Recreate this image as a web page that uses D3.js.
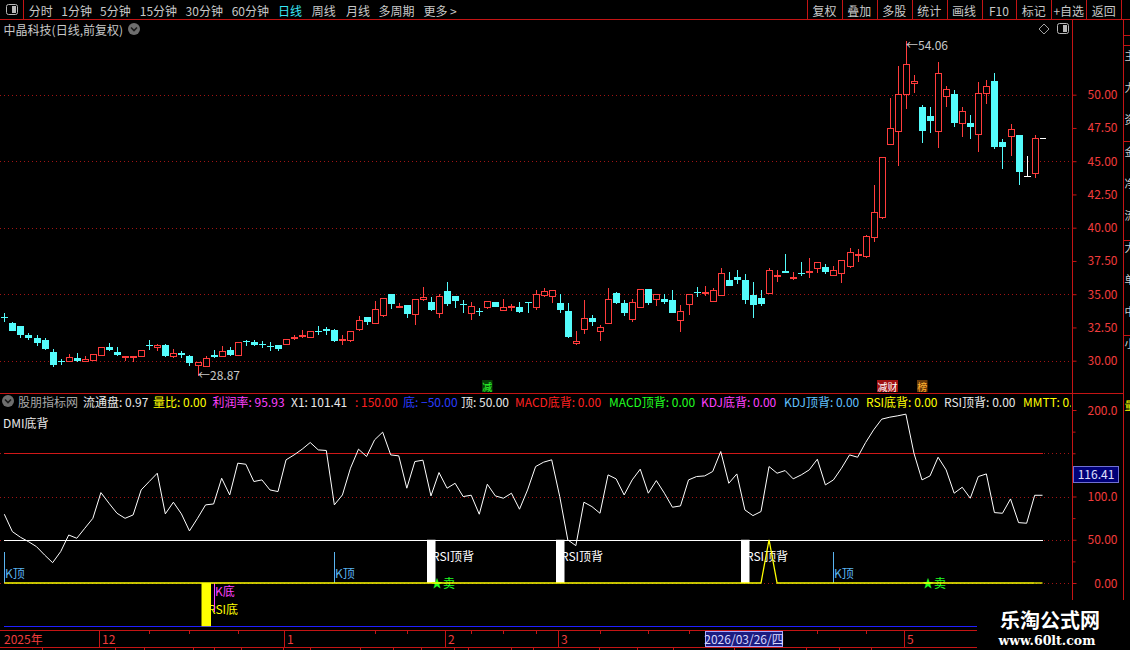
<!DOCTYPE html>
<html lang="zh-CN">
<head>
<meta charset="UTF-8">
<title>中晶科技 日线</title>
<style>
  body { margin: 0; background: #000; overflow: hidden; }
  svg text { font-family: "Noto Sans CJK SC", "Noto Sans", sans-serif; }
</style>
<script src="https://cdn.jsdelivr.net/npm/d3@7/dist/d3.min.js"></script>
</head>
<body>
<script>
// ---------- 数据：日K线 ----------
const opens = [
  33.30, 32.85, 32.62, 31.95, 31.72, 31.57, 30.67, 29.97, 29.95, 30.20,
  29.95, 30.07, 30.45, 31.05, 30.62, 30.30, 30.28, 30.32, 31.20, 31.00,
  31.20, 30.32, 30.60, 30.37, 29.65, 29.57, 30.45, 30.32, 30.82, 30.40,
  31.47, 31.42, 31.27, 31.10, 31.17, 31.22, 31.72, 31.87, 31.75, 32.22,
  32.35, 32.32, 31.60, 31.57, 32.38, 33.28, 32.86, 33.46, 35.00, 34.10,
  34.16, 33.48, 34.61, 34.43, 33.56, 35.24, 34.86, 34.26, 33.61, 33.70,
  34.06, 34.41, 33.83, 34.04, 34.03, 34.38, 34.06, 34.96, 34.86, 34.33,
  33.73, 31.30, 32.35, 33.21, 32.26, 32.86, 35.08, 34.33, 33.16, 34.06,
  35.39, 34.61, 34.63, 34.56, 33.03, 34.23, 35.20, 35.10, 34.52, 34.92,
  36.07, 36.30, 36.07, 34.94, 34.72, 35.07, 36.37, 36.72, 36.27, 36.59,
  36.72, 36.95, 37.05, 36.47, 36.62, 37.15, 38.00, 37.90, 39.33, 40.83,
  46.27, 47.25, 50.03, 50.90, 49.05, 48.40, 47.25, 49.93, 50.05, 47.85,
  47.85, 47.02, 50.10, 51.03, 46.42, 46.87, 46.94, 43.90, 44.14
];
const highs = [
  33.57, 32.88, 32.64, 32.12, 31.92, 31.70, 30.90, 30.12, 30.52, 30.57,
  30.37, 30.52, 31.04, 31.35, 31.00, 30.35, 30.35, 30.84, 31.57, 31.27,
  31.27, 30.90, 30.70, 30.40, 29.92, 30.37, 30.82, 31.07, 31.05, 31.42,
  31.52, 31.57, 31.45, 31.37, 31.19, 31.64, 31.95, 32.32, 32.27, 32.62,
  32.50, 32.35, 31.95, 32.27, 33.37, 33.30, 34.50, 34.70, 35.02, 34.34,
  34.18, 34.63, 35.54, 34.78, 35.00, 35.91, 34.88, 34.56, 34.38, 33.93,
  34.50, 34.43, 34.63, 34.26, 34.41, 34.43, 35.31, 35.44, 35.31, 35.01,
  34.33, 32.23, 34.56, 33.43, 32.66, 35.46, 35.16, 34.53, 34.61, 35.38,
  35.41, 35.00, 35.01, 35.31, 34.18, 35.00, 35.54, 35.62, 35.44, 36.95,
  36.70, 36.82, 36.52, 35.92, 35.32, 36.95, 36.82, 38.02, 36.65, 37.42,
  37.72, 37.42, 37.27, 37.12, 37.59, 38.45, 38.37, 39.45, 43.20, 45.31,
  49.73, 52.16, 54.06, 51.48, 49.23, 49.05, 52.43, 50.65, 50.35, 49.10,
  48.47, 50.98, 51.10, 51.66, 46.67, 47.77, 46.96, 45.39, 46.97
];
const lows = [
  32.94, 32.22, 31.67, 31.57, 31.07, 30.82, 29.50, 29.65, 29.93, 29.92,
  29.93, 30.00, 30.40, 30.72, 30.32, 29.95, 29.87, 30.30, 30.82, 30.70,
  30.30, 30.17, 30.17, 29.57, 28.87, 29.50, 30.20, 30.30, 30.37, 30.38,
  31.12, 31.07, 30.95, 30.70, 30.70, 31.15, 31.52, 31.70, 31.70, 31.90,
  31.90, 31.42, 31.20, 31.42, 32.24, 32.68, 32.78, 33.30, 33.88, 33.94,
  33.23, 32.68, 34.51, 33.73, 33.23, 34.11, 33.98, 33.61, 33.06, 33.36,
  33.86, 34.04, 33.81, 33.76, 33.58, 33.61, 33.83, 34.81, 34.36, 33.61,
  31.70, 31.20, 32.00, 32.60, 31.48, 32.84, 34.26, 33.38, 32.93, 33.98,
  34.21, 34.13, 34.28, 33.59, 32.18, 33.43, 34.81, 34.89, 34.44, 34.90,
  35.60, 35.77, 34.27, 33.21, 34.12, 35.05, 35.94, 36.60, 36.07, 36.37,
  36.25, 36.57, 36.52, 36.45, 35.87, 37.00, 37.42, 37.72, 38.95, 40.65,
  46.25, 44.67, 48.90, 50.10, 46.39, 47.15, 45.97, 49.10, 47.60, 46.85,
  46.64, 45.72, 49.28, 45.94, 44.39, 45.39, 43.18, 43.85, 43.76
];
const closes = [
  33.25, 32.25, 31.95, 31.70, 31.35, 30.90, 29.70, 29.93, 30.27, 30.00,
  30.12, 30.50, 31.02, 30.82, 30.45, 30.32, 30.33, 30.82, 31.15, 31.17,
  30.37, 30.57, 30.40, 29.80, 29.90, 30.20, 30.25, 30.75, 30.45, 31.40,
  31.42, 31.15, 31.22, 31.05, 30.90, 31.62, 31.75, 31.90, 32.22, 32.17,
  32.27, 31.50, 31.65, 32.22, 33.07, 32.90, 33.86, 34.68, 34.28, 34.14,
  33.53, 34.61, 34.76, 33.81, 34.86, 34.28, 34.48, 34.20, 34.11, 33.66,
  34.48, 34.06, 34.03, 34.08, 33.66, 34.34, 35.01, 35.21, 35.29, 33.81,
  31.78, 31.45, 33.18, 32.93, 32.51, 34.61, 34.36, 33.61, 34.38, 35.36,
  34.36, 34.98, 34.43, 33.61, 33.71, 34.98, 35.16, 35.17, 35.32, 36.57,
  35.62, 36.07, 34.57, 34.19, 34.27, 36.82, 36.42, 36.62, 36.32, 36.55,
  36.78, 37.40, 36.67, 36.80, 37.57, 38.17, 38.05, 39.38, 41.15, 45.29,
  47.47, 50.03, 52.28, 51.03, 47.30, 48.05, 51.60, 50.40, 47.90, 48.75,
  47.55, 50.10, 50.65, 46.09, 46.09, 47.40, 44.20, 43.90, 46.72
];

// ---------- 数据：副图指标 ----------
const x1Values = [
  79.5, 59.4, 52.9, 47.8, 42.0, 32.4, 23.5, 36.3, 55.5, 51.7,
  63.3, 74.8, 104.5, 92.2, 80.6, 74.8, 78.7, 107.6, 117.3, 126.9,
  79.9, 93.4, 79.9, 60.2, 74.8, 90.3, 91.4, 121.1, 101.8, 138.5,
  137.3, 117.3, 119.2, 107.6, 105.7, 142.4, 148.1, 154.7, 162.4, 153.9,
  153.2, 90.3, 101.8, 132.7, 154.7, 146.2, 165.5, 174.4, 148.1, 147.0,
  109.6, 140.4, 142.0, 100.7, 127.7, 109.6, 115.3, 99.9, 101.5, 79.5,
  114.2, 100.7, 98.0, 103.8, 85.3, 107.6, 134.6, 139.7, 142.4, 99.9,
  49.8, 43.2, 93.4, 88.3, 80.6, 125.0, 120.4, 101.8, 119.2, 131.6,
  103.8, 118.4, 103.8, 87.6, 89.1, 119.2, 123.1, 123.8, 128.9, 152.0,
  115.3, 126.1, 84.5, 77.9, 82.6, 134.6, 126.9, 130.0, 120.4, 125.0,
  130.8, 143.1, 113.4, 119.2, 132.7, 148.1, 145.4, 162.4, 177.1, 189.4,
  191.7, 193.3, 195.2, 150.1, 119.2, 123.8, 145.4, 130.8, 103.8, 110.7,
  98.0, 123.1, 126.1, 81.4, 80.6, 97.2, 69.8, 69.1, 101.41
];
const mmttValues = [
  0, 0, 0, 0, 0, 0, 0, 0, 0, 0,
  0, 0, 0, 0, 0, 0, 0, 0, 0, 0,
  0, 0, 0, 0, 0, 0, 0, 0, 0, 0,
  0, 0, 0, 0, 0, 0, 0, 0, 0, 0,
  0, 0, 0, 0, 0, 0, 0, 0, 0, 0,
  0, 0, 0, 0, 0, 0, 0, 0, 0, 0,
  0, 0, 0, 0, 0, 0, 0, 0, 0, 0,
  0, 0, 0, 0, 0, 0, 0, 0, 0, 0,
  0, 0, 0, 0, 0, 0, 0, 0, 0, 0,
  0, 0, 0, 0, 0, 50, 0, 0, 0, 0,
  0, 0, 0, 0, 0, 0, 0, 0, 0, 0,
  0, 0, 0, 0, 0, 0, 0, 0, 0, 0,
  0, 0, 0, 0, 0, 0, 0, 0, 0
];
const levelHigh = 150, levelTop = 50, levelBottom = -50;

// 信号所在K线序号
const kTopIdx = [0, 41, 103];
const kBottomIdx = [26];
const rsiTopDivIdx = [53, 69, 92];
const rsiBottomIdx = [25];
const sellIdx = [53, 114];

// 主图事件标记
const eventIdx = [60, 109, 114];
const eventLabels = ["减", "减财", "榜"];

// 刻度
const priceTickValues = [30, 32.5, 35, 37.5, 40, 42.5, 45, 47.5, 50];
const priceGridValues = [30, 35, 40, 45, 50];
const indTickValues = [0, 50, 100, 200];
const indTickLabels = ["0.00", "50.00", "100.0", "200.0"];
const indMinorTicks = [25, 75, 125, 150, 175];
const indGridValues = [0, 50, 100, 150];
const monthStartIdx = [12, 35, 55, 69, 91, 112];
const monthLabels = ["12", "1", "2", "3", "", "5"];   // 4月标签被光标日期框遮住
const weekTickIdx = [18, 23, 29, 46, 50, 58, 62, 66, 74, 80, 85, 101, 107];
const cursorIdx = 92, cursorDate = "2026/03/26/四", cursorValue = 116.41;

// 表头
const headerNames = ["流通盘", "量比", "利润率", "X1", "", "底", "顶", "MACD底背", "MACD顶背",
                     "KDJ底背", "KDJ顶背", "RSI底背", "RSI顶背", "MMTT"];
const headerValues = [0.97, 0.00, 95.93, 101.41, 150.00, -50.00, 50.00, 0, 0, 0, 0, 0, 0, 0];

// ---------- 样式与布局 ----------
const W = 1130, H = 650;
const frameRed = "#c41414", labelRed = "#f03c3c", gridRed = "#a01414";
const upColor = "#ff3c3c", downColor = "#54fcfc", grayText = "#c8c8c8";
const axisX = 1072, lineEnd = 1042.5, stripX = 1123;

const svg = d3.select("body").append("svg").attr("width", W).attr("height", H);
svg.append("rect").attr("width", W).attr("height", H).attr("fill", "#000");

const idx = opens.map((d, i) => i);
const x = d3.scaleBand().domain(idx).range([0.3, 1038.7]).paddingInner(0.17).paddingOuter(0.085);
const cx = i => x(i) + x.bandwidth() / 2;
const px = i => Math.round(cx(i));
const yP = d3.scaleLinear().domain([30, 50]).range([360.7, 94.7]);
const yI = d3.scaleLinear().domain([0, 200]).range([583, 410]);
const r5 = v => Math.round(v) + 0.5;

// ---------- 工具栏 ----------
const frame = svg.append("g").attr("shape-rendering", "crispEdges").attr("stroke", frameRed);
frame.append("line").attr("x1", 0).attr("x2", W).attr("y1", 19.5).attr("y2", 19.5);
frame.append("line").attr("x1", 23.5).attr("x2", 23.5).attr("y1", 0).attr("y2", 19);

function panelIcon(g, x0, y0) {
  g.append("rect").attr("x", x0 + 0.5).attr("y", y0 + 0.5).attr("width", 11).attr("height", 10)
    .attr("rx", 2).attr("fill", "none").attr("stroke", "#b8b8b8");
  g.append("rect").attr("x", x0 + 6).attr("y", y0 + 2).attr("width", 4).attr("height", 7).attr("fill", "#b8b8b8");
}
panelIcon(svg, 6, 4);

const toolItems = ["分时", "1分钟", "5分钟", "15分钟", "30分钟", "60分钟", "日线", "周线", "月线", "多周期", "更多 >"];
const toolX = [28.8, 61.3, 100, 139.8, 185.6, 231.7, 278, 311.7, 346, 378.4, 423.4];
svg.append("g").selectAll("text").data(toolItems).join("text")
  .attr("x", (d, i) => toolX[i]).attr("y", 10).attr("dominant-baseline", "central")
  .attr("font-size", 12).attr("fill", d => d === "日线" ? "#38e8f8" : grayText).text(d => d);

const buttons = ["复权", "叠加", "多股", "统计", "画线", "F10", "标记", "+自选", "返回"];
const btnStep = 34.9, btnLeft = 807;
d3.range(buttons.length + 1).forEach(k => {
  frame.append("line").attr("x1", r5(btnLeft + k * btnStep)).attr("x2", r5(btnLeft + k * btnStep))
    .attr("y1", 0).attr("y2", 19);
});
svg.append("g").selectAll("text").data(buttons).join("text")
  .attr("x", (d, i) => btnLeft + (i + 0.5) * btnStep).attr("y", 10).attr("text-anchor", "middle")
  .attr("dominant-baseline", "central").attr("font-size", 12).attr("fill", grayText).text(d => d);

// 标题行
svg.append("text").attr("x", 3.6).attr("y", 29).attr("dominant-baseline", "central")
  .attr("font-size", 12).attr("fill", grayText).text("中晶科技(日线,前复权)");
function chevron(x0, y0) {
  svg.append("circle").attr("cx", x0).attr("cy", y0).attr("r", 6).attr("fill", "#6e6e6e");
  svg.append("path").attr("d", `M${x0 - 3},${y0 - 1.5} L${x0},${y0 + 1.5} L${x0 + 3},${y0 - 1.5}`)
    .attr("fill", "none").attr("stroke", "#1a1a1a").attr("stroke-width", 1.6);
}
chevron(134, 29);
svg.append("path").attr("d", "M1044,24 L1049,29 L1044,34 L1039,29 Z").attr("fill", "none").attr("stroke", "#a0a0a0");
panelIcon(svg, 1057, 23);

// 框线
frame.append("line").attr("x1", axisX + 0.5).attr("x2", axisX + 0.5).attr("y1", 20).attr("y2", 600);
frame.append("line").attr("x1", stripX + 0.5).attr("x2", stripX + 0.5).attr("y1", 20).attr("y2", H);
frame.append("line").attr("x1", 0).attr("x2", stripX).attr("y1", 393.5).attr("y2", 393.5);
[35, 45, 141, 240, 335].forEach(yy => frame.append("line").attr("x1", stripX).attr("x2", W).attr("y1", yy + 0.5).attr("y2", yy + 0.5));
// 右侧被截断的面板（只露出一小条）
const stripChars = "主力资金净流大单中小";
svg.append("g").selectAll("text").data(stripChars.split("")).join("text")
  .attr("x", stripX + 1.5).attr("y", (d, i) => 60 + i * 32).attr("font-size", 11).attr("fill", "#cfcfcf").text(d => d);
svg.append("text").attr("x", stripX + 1.5).attr("y", 410).attr("font-size", 11).attr("fill", "#ffff00").text("量");

// ---------- 主图 ----------
const grid = svg.append("g").attr("shape-rendering", "crispEdges");
grid.selectAll("line").data(priceGridValues).join("line")
  .attr("x1", 0).attr("x2", axisX).attr("y1", d => r5(yP(d))).attr("y2", d => r5(yP(d)))
  .attr("stroke", gridRed).attr("stroke-dasharray", "1,3");

const pAxis = svg.append("g").attr("transform", `translate(${axisX + 0.5},0)`)
  .call(d3.axisRight(yP).tickValues(priceTickValues).tickFormat(d3.format(".2f")).tickSize(4));
pAxis.select(".domain").remove();
pAxis.selectAll("line").attr("stroke", frameRed);
pAxis.selectAll("text").attr("x", 45).attr("y", -1.5).attr("text-anchor", "end").attr("fill", labelRed)
  .attr("font-size", 12).attr("dy", null).attr("dominant-baseline", "central");

const candles = idx.map(i => ({ i, o: opens[i], h: highs[i], l: lows[i], c: closes[i] }));
const cg = svg.append("g").attr("shape-rendering", "crispEdges");
candles.forEach(d => {
  const xc = px(d.i);
  const yH = Math.round(yP(d.h)), yL = Math.round(yP(d.l));
  const yO = Math.round(yP(d.o)), yC = Math.round(yP(d.c));
  if (d.c > d.o) {
    cg.append("line").attr("x1", xc + 0.5).attr("x2", xc + 0.5).attr("y1", yH).attr("y2", yC).attr("stroke", upColor);
    cg.append("line").attr("x1", xc + 0.5).attr("x2", xc + 0.5).attr("y1", yO).attr("y2", yL).attr("stroke", upColor);
    cg.append("rect").attr("x", xc - 2.5).attr("y", yC + 0.5).attr("width", 6).attr("height", Math.max(yO - yC, 1))
      .attr("fill", "#000").attr("stroke", upColor);
  } else if (d.c < d.o) {
    cg.append("line").attr("x1", xc + 0.5).attr("x2", xc + 0.5).attr("y1", yH).attr("y2", yL).attr("stroke", downColor);
    cg.append("rect").attr("x", xc - 3).attr("y", yO).attr("width", 7).attr("height", Math.max(yC - yO, 1))
      .attr("fill", downColor);
  } else {
    cg.append("line").attr("x1", xc + 0.5).attr("x2", xc + 0.5).attr("y1", yH).attr("y2", yL + 1).attr("stroke", "#fff");
    cg.append("line").attr("x1", xc - 3).attr("x2", xc + 4).attr("y1", yC + 0.5).attr("y2", yC + 0.5).attr("stroke", "#fff");
  }
});
// 最新价标记
const lastI = closes.length - 1;
cg.append("line").attr("x1", px(lastI) + 5).attr("x2", px(lastI) + 11)
  .attr("y1", r5(yP(closes[lastI]))).attr("y2", r5(yP(closes[lastI]))).attr("stroke", "#fff");

// 最高/最低价标注
const hiI = d3.maxIndex(highs), loI = d3.minIndex(lows);
svg.append("text").attr("x", px(hiI)).attr("y", yP(highs[hiI]) + 4).attr("dominant-baseline", "central")
  .attr("font-size", 12).attr("fill", grayText).text("\u2190" + d3.format(".2f")(highs[hiI]));
svg.append("text").attr("x", px(loI)).attr("y", yP(lows[loI]) - 1).attr("dominant-baseline", "central")
  .attr("font-size", 12).attr("fill", grayText).text("\u2190" + d3.format(".2f")(lows[loI]));

// 事件标记
const eventStyle = [
  { fg: "#30ff30", bg: "#064006" }, { fg: "#ffffff", bg: "#a01010" }, { fg: "#ffb030", bg: "#6a3a08" }
];
eventIdx.forEach((e, k) => {
  const w = 10.5 * eventLabels[k].length;
  svg.append("rect").attr("x", px(e) - 5).attr("y", 380).attr("width", w).attr("height", 12).attr("fill", eventStyle[k].bg);
  svg.append("text").attr("x", px(e) - 5 + w / 2).attr("y", 386).attr("text-anchor", "middle").attr("dominant-baseline", "central")
    .attr("font-size", 10).attr("fill", eventStyle[k].fg).text(eventLabels[k]);
});

// ---------- 副图 ----------
chevron(8, 401);
svg.append("text").attr("x", 18).attr("y", 401).attr("dominant-baseline", "central")
  .attr("font-size", 12).attr("fill", "#a8a8a8").text("股朋指标网");
const headerX = [83, 153, 212.6, 291, 355, 403, 461, 515, 609, 701, 784, 866, 944, 1023];
const headerColors = ["#e8e8e8", "#ffff00", "#ff40ff", "#e8e8e8", "#ff2020", "#2a3cff", "#e8e8e8",
                      "#ff2020", "#20ff20", "#ff40ff", "#60c0ff", "#ffff00", "#e8e8e8", "#ffff00"];
svg.append("clipPath").attr("id", "hdrClip").append("rect").attr("x", 0).attr("y", 394).attr("width", axisX - 1).attr("height", 16);
svg.append("g").attr("clip-path", "url(#hdrClip)").selectAll("text").data(headerNames).join("text")
  .attr("x", (d, i) => headerX[i]).attr("y", 401).attr("dominant-baseline", "central")
  .attr("font-size", 12).attr("fill", (d, i) => headerColors[i])
  .text((d, i) => d + ": " + d3.format(".2f")(headerValues[i]));
svg.append("text").attr("x", 3).attr("y", 422).attr("dominant-baseline", "central")
  .attr("font-size", 12).attr("fill", "#e8e8e8").text("DMI底背");

// 网格与轴
svg.append("g").attr("shape-rendering", "crispEdges").selectAll("line").data(indGridValues).join("line")
  .attr("x1", 0).attr("x2", axisX).attr("y1", d => r5(yI(d))).attr("y2", d => r5(yI(d)))
  .attr("stroke", gridRed).attr("stroke-dasharray", "1,3");
const iAxis = svg.append("g").attr("transform", `translate(${axisX + 0.5},0)`)
  .call(d3.axisRight(yI).tickValues(indTickValues).tickFormat((d, i) => indTickLabels[i]).tickSize(4));
iAxis.select(".domain").remove();
iAxis.selectAll("line").attr("stroke", frameRed);
iAxis.selectAll("text").attr("x", 45).attr("y", -1.5).attr("text-anchor", "end").attr("fill", labelRed)
  .attr("font-size", 12).attr("dy", null).attr("dominant-baseline", "central");
const iMinor = svg.append("g").attr("transform", `translate(${axisX + 0.5},0)`)
  .call(d3.axisRight(yI).tickValues(indMinorTicks).tickFormat("").tickSize(3));
iMinor.select(".domain").remove();
iMinor.selectAll("line").attr("stroke", frameRed);

// 水平线：150 / 顶 / 底
const levels = [
  { v: levelHigh, c: "#d01818" }, { v: levelTop, c: "#ffffff" }, { v: levelBottom, c: "#2020ff" }
];
svg.append("g").attr("shape-rendering", "crispEdges").selectAll("line").data(levels).join("line")
  .attr("x1", cx(0)).attr("x2", lineEnd).attr("y1", d => r5(yI(d.v))).attr("y2", d => r5(yI(d.v)))
  .attr("stroke", d => d.c).attr("stroke-width", 1);

// 信号
const sig = svg.append("g");
kTopIdx.forEach(i => {
  sig.append("line").attr("x1", px(i) + 0.5).attr("x2", px(i) + 0.5).attr("y1", 552).attr("y2", yI(0))
    .attr("stroke", "#5ab4f0").attr("shape-rendering", "crispEdges");
  sig.append("text").attr("x", px(i) + 1).attr("y", 578).attr("font-size", 12).attr("fill", "#5ab4f0").text("K顶");
});
rsiTopDivIdx.forEach(i => {
  sig.append("text").attr("x", px(i) + 1).attr("y", 561).attr("font-size", 12).attr("fill", "#ffffff").text("RSI顶背");
  sig.append("rect").attr("x", px(i) - 4).attr("y", yI(levelTop)).attr("width", 8.5)
    .attr("height", yI(0) - yI(levelTop)).attr("fill", "#ffffff");
});
rsiBottomIdx.forEach(i => {
  sig.append("text").attr("x", px(i) + 2).attr("y", 614).attr("font-size", 12).attr("fill", "#ffff00").text("RSI底");
  sig.append("rect").attr("x", px(i) - 4.5).attr("y", yI(0)).attr("width", 9.5)
    .attr("height", yI(levelBottom) - yI(0)).attr("fill", "#ffff00");
});
kBottomIdx.forEach(i => {
  sig.append("line").attr("x1", px(i) + 0.5).attr("x2", px(i) + 0.5).attr("y1", yI(0)).attr("y2", yI(0) + 29)
    .attr("stroke", "#ff40ff").attr("shape-rendering", "crispEdges");
  sig.append("text").attr("x", px(i) + 1).attr("y", 596).attr("font-size", 12).attr("fill", "#ff40ff").text("K底");
});

// X1 与 MMTT 线（末值向右延伸到线区尽头）
const line = d3.line().x((d, i) => cx(i)).y(d => yI(d));
svg.append("path").datum(x1Values).attr("d", line).attr("fill", "none").attr("stroke", "#ffffff").attr("stroke-width", 1);
svg.append("line").attr("x1", cx(lastI)).attr("x2", lineEnd).attr("y1", yI(x1Values[lastI])).attr("y2", yI(x1Values[lastI]))
  .attr("stroke", "#ffffff").attr("stroke-width", 1);
svg.append("path").datum(mmttValues).attr("d", line).attr("fill", "none").attr("stroke", "#ffff00").attr("stroke-width", 1.3);
svg.append("line").attr("x1", cx(lastI)).attr("x2", lineEnd).attr("y1", yI(mmttValues[lastI])).attr("y2", yI(mmttValues[lastI]))
  .attr("stroke", "#ffff00").attr("stroke-width", 1.3);

sellIdx.forEach(i => {
  sig.append("text").attr("x", px(i)).attr("y", 588).attr("font-size", 12).attr("fill", "#20ff20").text("★卖");
});

// 光标数值框
svg.append("rect").attr("x", 1073.5).attr("y", r5(yI(125.5)) - 8).attr("width", 45).attr("height", 16)
  .attr("fill", "#000078").attr("stroke", "#7070d0");
svg.append("text").attr("x", 1096).attr("y", yI(125.5) - 0.5).attr("text-anchor", "middle").attr("dominant-baseline", "central")
  .attr("font-size", 12).attr("fill", "#e0e0ff").text(d3.format(".2f")(cursorValue));

// ---------- 日期栏 ----------
const dateBar = svg.append("g").attr("shape-rendering", "crispEdges");
dateBar.append("line").attr("x1", 0).attr("x2", 977).attr("y1", 630.5).attr("y2", 630.5).attr("stroke", frameRed);
dateBar.append("line").attr("x1", 0).attr("x2", 977).attr("y1", 647.5).attr("y2", 647.5).attr("stroke", frameRed);
dateBar.selectAll(".mt").data(monthStartIdx).join("line").attr("class", "mt")
  .attr("x1", d => px(d) - 1.5).attr("x2", d => px(d) - 1.5).attr("y1", 630).attr("y2", 647).attr("stroke", frameRed);
dateBar.selectAll(".wt").data(weekTickIdx).join("line").attr("class", "wt")
  .attr("x1", d => px(d) + 0.5).attr("x2", d => px(d) + 0.5).attr("y1", 630).attr("y2", 634).attr("stroke", frameRed);
svg.append("text").attr("x", 4).attr("y", 638).attr("dominant-baseline", "central")
  .attr("font-size", 12).attr("fill", labelRed).text("2025年");
svg.append("g").selectAll("text").data(monthLabels).join("text")
  .attr("x", (d, i) => px(monthStartIdx[i]) + 1).attr("y", 638).attr("dominant-baseline", "central")
  .attr("font-size", 12).attr("fill", labelRed).text(d => d);
[42, 115, 144, 193, 214, 241, 283, 310, 360, 393, 421, 454, 468, 511, 533, 599, 637, 673, 734, 806, 839, 871]
  .forEach(xx => dateBar.append("line").attr("x1", xx + 0.5).attr("x2", xx + 0.5).attr("y1", 647).attr("y2", H).attr("stroke", frameRed));
svg.append("rect").attr("x", px(cursorIdx) - 39.5).attr("y", 631.5).attr("width", 77).attr("height", 15)
  .attr("fill", "#1c1c80").attr("stroke", "#a8a8ff").attr("shape-rendering", "crispEdges");
svg.append("text").attr("x", px(cursorIdx) - 1).attr("y", 638.5).attr("text-anchor", "middle").attr("dominant-baseline", "central")
  .attr("font-size", 12).attr("fill", "#d8d8ff").text(cursorDate);

// ---------- 水印 ----------
svg.append("rect").attr("x", 977).attr("y", 600).attr("width", W - 977).attr("height", 50).attr("fill", "#000");
svg.append("text").attr("x", 1050).attr("y", 619).attr("text-anchor", "middle").attr("dominant-baseline", "central")
  .attr("font-size", 20).attr("font-weight", "bold").attr("fill", "#ffffff").text("乐淘公式网");
svg.append("text").attr("x", 1047).attr("y", 640).attr("text-anchor", "middle").attr("dominant-baseline", "central")
  .style("font-family", '"DejaVu Serif", "Liberation Serif", serif')
  .attr("font-size", 12.5).attr("font-weight", "bold").attr("fill", "#ffffff").text("www.60lt.com");
</script>
</body>
</html>
